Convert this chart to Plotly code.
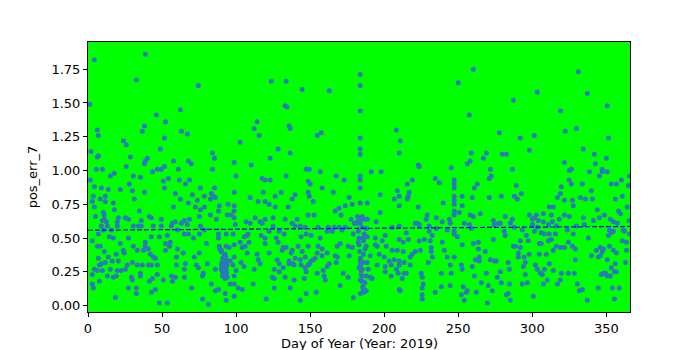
import plotly.graph_objects as go

# ---- data (day of year, pos_err_7) ----
days_q1 = [4.3,38.7,32.7,74.5,1.1,46.2,62.4,52.3,38.1,36.7,6.3,7.0,63.1,67.1,51.6,23.9,25.9,48.9,2.0,84.0,
           7.0,6.3,28.6,85.4,40.1,38.7,38.1,57.7,67.8,69.8,25.9,5.6,9.7,84.0,46.8,49.5,51.6,61.0,43.5,15.1,
           17.8,30.6,35.4,54.3,1.6,50.9,61.7,68.5,65.8,4.3,27.9,9.0,13.7,21.8,30.0,51.6,75.9,85.4,38.1,59.0,
           70.5,78.6,83.3,84.7,86.0,3.6,11.7,8.3,11.7,2.9,17.1,31.3,62.4,73.9,82.7,67.8,4.3,72.5,78.6,88.7,
           57.7,17.8,34.7,75.9,10.4,11.0,82.7,88.1,5.0,41.4,42.8,20.5,25.2,27.3,49.5,75.2,9.7,11.0,12.4,19.8,
           36.0,59.0,65.1,68.5,86.7,57.0,63.1,67.1,9.0,13.1,19.8,30.6,34.0,36.0,44.1,49.5,56.3,75.9,10.4,15.8,
           60.4,78.6,7.0,65.1,67.8,75.2,88.1,88.1,14.4,17.1,27.3,42.8,48.2,53.6,71.2,2.9,38.7,52.3,55.6,80.0,
           88.7,21.8,6.3,8.3,30.6,38.7,55.0,40.8,90.1,11.0,23.9,33.3,37.4,52.3,60.4,64.4,75.2,24.5,19.1,42.1,
           13.7,7.0,44.1,45.5,59.7,71.8,16.4,20.5,11.7,9.0,26.6,30.0,33.3,36.7,40.8,42.8,46.8,59.7,65.8,73.2,
           80.6,90.1,74.5,7.7,4.3,6.3,9.7,15.1,19.8,22.5,25.2,65.1,86.0,90.1,90.8,2.9,13.1,17.1,19.1,35.4,
           35.4,46.8,56.3,59.0,65.1,77.3,77.9,29.3,30.0,90.8,7.7,41.4,43.5,50.9,57.0,83.3,2.9,3.6,27.3,32.7,
           70.0,42.8,45.5,86.0,88.1,32.7,18.5,77.3,81.3,48.2,53.6]
vals_q1 = [1.82,1.86,1.67,1.63,1.49,1.41,1.45,1.36,1.33,1.29,1.30,1.26,1.29,1.27,1.24,1.22,1.19,1.16,1.14,1.13,
           1.11,1.10,1.10,1.09,1.09,1.07,1.05,1.07,1.07,1.05,1.03,1.01,1.01,1.01,1.01,1.01,1.03,1.01,0.99,0.96,
           0.98,0.96,0.95,0.94,0.93,0.92,0.93,0.93,0.90,0.88,0.90,0.87,0.86,0.86,0.85,0.87,0.87,0.87,0.84,0.83,
           0.82,0.81,0.83,0.81,0.80,0.81,0.81,0.79,0.77,0.77,0.76,0.79,0.79,0.78,0.79,0.76,0.73,0.73,0.73,0.74,
           0.73,0.71,0.70,0.71,0.69,0.67,0.67,0.70,0.66,0.66,0.65,0.65,0.65,0.64,0.64,0.66,0.63,0.64,0.62,0.62,
           0.63,0.62,0.63,0.64,0.64,0.61,0.61,0.60,0.59,0.59,0.59,0.59,0.59,0.59,0.59,0.59,0.59,0.59,0.56,0.56,
           0.56,0.56,0.53,0.53,0.53,0.53,0.53,0.50,0.51,0.50,0.50,0.51,0.51,0.52,0.50,0.48,0.47,0.46,0.47,0.46,
           0.44,0.46,0.44,0.44,0.44,0.44,0.44,0.42,0.41,0.40,0.41,0.41,0.41,0.41,0.42,0.39,0.39,0.39,0.38,0.38,
           0.36,0.35,0.36,0.35,0.36,0.36,0.33,0.33,0.32,0.31,0.30,0.32,0.30,0.30,0.30,0.30,0.30,0.30,0.31,0.30,
           0.31,0.30,0.28,0.30,0.27,0.26,0.26,0.27,0.26,0.26,0.27,0.27,0.27,0.27,0.25,0.23,0.22,0.21,0.22,0.24,
           0.22,0.23,0.22,0.21,0.21,0.22,0.24,0.21,0.19,0.22,0.18,0.18,0.20,0.19,0.18,0.16,0.16,0.13,0.13,0.13,
           0.13,0.10,0.12,0.11,0.12,0.09,0.06,0.05,0.01,0.02,0.02]

days_q2 = [90.5,91.0,91.5,92.0,92.0,92.5,93.0,93.0,93.5,93.5,94.0,91.0,92.0,90.0,89.0,92.5,94.0,90.5,91.5,93.0,
           123.7,133.8,144.6,162.9,133.1,134.5,114.2,112.2,135.8,136.5,115.6,154.8,157.5,102.7,128.4,136.5,123.0,98.7,110.2,100.0,
           147.3,149.4,133.8,117.6,119.6,123.0,148.7,150.0,156.8,167.6,173.0,158.1,98.7,118.3,130.4,126.4,148.7,149.4,139.9,137.9,
           165.6,176.4,109.5,114.9,119.6,152.1,94.6,122.3,126.4,135.2,98.7,98.7,173.7,178.4,169.6,166.9,170.9,94.0,96.7,98.7,
           112.9,125.0,148.7,152.7,141.2,133.1,116.2,119.6,117.6,106.8,109.5,99.4,137.9,139.9,143.3,146.7,155.4,162.2,166.2,169.6,
           173.7,177.7,179.8,181.8,125.0,129.1,132.5,143.9,147.3,150.7,156.8,161.5,164.9,171.6,179.1,93.3,98.0,107.5,108.1,105.4,
           116.9,119.6,122.3,127.1,128.4,108.8,102.7,98.7,93.3,119.6,148.7,155.4,158.1,170.3,168.3,175.7,178.4,182.5,131.8,133.8,
           137.9,141.9,144.6,95.3,104.1,106.1,107.5,114.2,122.3,131.1,137.2,161.5,166.9,168.3,176.4,139.9,143.3,146.7,152.1,158.1,
           154.8,92.6,98.7,114.9,127.7,93.3,96.0,103.4,116.2,129.1,135.8,138.5,149.4,150.7,153.4,162.9,167.6,92.6,98.0,105.4,
           131.8,135.8,139.2,143.9,146.7,148.7,161.5,93.3,100.0,112.2,125.7,129.1,147.3,154.8,158.8,159.5,172.3,175.7,93.3,98.7,
           125.7,124.4,133.1,139.2,146.0,160.2,170.3,96.0,98.7,101.4,104.1,111.5,125.7,136.5,147.3,154.1,92.6,98.7,93.3,120.3,
           143.3,179.1]
vals_q2 = [0.27,0.25,0.29,0.23,0.31,0.26,0.28,0.22,0.33,0.24,0.30,0.35,0.38,0.40,0.42,0.20,0.21,0.32,0.22,0.36,
           1.66,1.66,1.60,1.59,1.48,1.47,1.36,1.31,1.33,1.31,1.26,1.26,1.28,1.21,1.16,1.13,1.09,1.06,1.04,0.96,
           1.01,1.01,0.96,0.94,0.93,0.93,0.92,0.90,0.99,0.96,0.93,0.87,0.84,0.84,0.84,0.81,0.84,0.81,0.82,0.79,
           0.84,0.80,0.80,0.77,0.77,0.77,0.75,0.75,0.73,0.73,0.74,0.70,0.74,0.75,0.72,0.70,0.67,0.67,0.67,0.65,
           0.65,0.65,0.67,0.67,0.64,0.64,0.62,0.64,0.61,0.62,0.61,0.60,0.61,0.59,0.59,0.58,0.58,0.58,0.58,0.58,
           0.58,0.64,0.61,0.61,0.59,0.55,0.53,0.51,0.53,0.52,0.50,0.55,0.55,0.56,0.53,0.53,0.53,0.52,0.53,0.51,
           0.52,0.50,0.55,0.50,0.47,0.47,0.47,0.45,0.44,0.46,0.44,0.44,0.42,0.46,0.44,0.44,0.43,0.47,0.43,0.43,
           0.41,0.44,0.40,0.43,0.43,0.44,0.39,0.38,0.39,0.41,0.39,0.39,0.37,0.36,0.37,0.35,0.34,0.36,0.34,0.37,
           0.39,0.38,0.36,0.34,0.34,0.33,0.33,0.32,0.31,0.31,0.33,0.31,0.31,0.33,0.35,0.31,0.32,0.30,0.30,0.29,
           0.28,0.31,0.30,0.30,0.28,0.30,0.29,0.26,0.26,0.27,0.27,0.25,0.25,0.24,0.26,0.22,0.24,0.21,0.23,0.22,
           0.20,0.21,0.21,0.19,0.20,0.19,0.15,0.16,0.16,0.13,0.12,0.16,0.13,0.13,0.09,0.10,0.09,0.07,0.04,0.05,
           0.04,0.06]

days_q3 = [182.0,182.5,183.0,183.0,183.5,184.0,184.0,184.5,185.0,185.0,185.5,186.0,184.0,185.0,186.0,187.0,186.0,183.0,184.0,187.0,
           188.0,182.0,
           260.2,250.0,183.8,183.8,183.8,257.5,208.2,210.9,210.2,183.8,183.8,183.8,258.8,269.0,267.0,256.1,258.1,223.0,
           223.7,245.3,271.7,191.3,198.0,183.8,183.8,183.8,219.0,215.6,234.5,237.2,247.3,247.3,247.3,262.9,260.9,271.0,272.3,208.8,
           210.2,206.8,216.9,216.3,215.6,197.3,247.3,247.3,247.3,252.7,259.5,271.0,183.8,188.6,210.2,223.0,239.9,247.3,247.3,247.3,
           250.7,252.7,258.1,260.2,264.9,273.7,197.3,185.2,186.5,188.6,183.8,194.6,229.1,228.4,235.2,239.2,244.0,244.6,221.0,222.3,
           223.7,254.1,257.5,274.4,187.9,205.4,210.2,230.4,235.2,242.6,247.3,247.3,249.4,258.8,186.5,200.7,214.9,230.4,232.5,185.9,
           188.6,194.0,198.7,210.2,212.9,216.3,223.7,227.1,231.1,239.2,252.7,260.2,263.6,273.7,187.9,194.0,195.3,201.4,208.8,212.9,
           205.4,219.0,221.0,224.4,231.8,231.8,240.6,263.6,268.3,190.6,196.7,200.0,203.4,206.8,210.2,217.6,232.5,242.6,247.3,261.5,
           264.2,264.2,271.7,183.8,185.9,188.6,195.3,200.7,204.8,210.2,213.5,217.6,229.8,244.6,252.1,259.5,274.4,185.2,189.2,200.7,
           208.2,209.5,213.5,225.0,238.6,245.3,252.7,269.0,184.5,190.6,204.8,214.9,225.7,183.8,185.2,191.9,212.2,260.9,265.6,226.4,
           185.9,187.9,186.5,210.2,210.9,225.7,238.6,244.6,253.4,256.1,270.3,273.0,234.5,262.2,225.7,225.7,252.1,254.1,255.4,269.7]
vals_q3 = [0.62,0.55,0.50,0.45,0.40,0.35,0.30,0.26,0.22,0.18,0.14,0.12,0.64,0.58,0.48,0.42,0.38,0.28,0.09,0.17,
           0.22,0.66,
           1.75,1.65,1.71,1.63,1.44,1.41,1.30,1.22,1.13,1.24,1.16,1.12,1.13,1.13,1.09,1.05,1.07,1.04,
           1.03,1.02,1.01,0.99,0.99,0.96,0.93,0.87,0.93,0.90,0.94,0.91,0.93,0.90,0.87,0.90,0.87,0.94,0.96,0.85,
           0.81,0.79,0.84,0.81,0.79,0.82,0.81,0.78,0.75,0.81,0.80,0.80,0.76,0.76,0.74,0.73,0.76,0.70,0.67,0.69,
           0.69,0.74,0.67,0.66,0.68,0.63,0.69,0.66,0.64,0.64,0.61,0.62,0.67,0.64,0.65,0.62,0.64,0.61,0.61,0.61,
           0.60,0.61,0.60,0.60,0.57,0.58,0.59,0.59,0.57,0.56,0.55,0.53,0.51,0.57,0.53,0.52,0.54,0.55,0.52,0.50,
           0.51,0.50,0.48,0.49,0.47,0.49,0.48,0.49,0.48,0.47,0.45,0.46,0.47,0.49,0.44,0.45,0.44,0.44,0.41,0.40,
           0.41,0.38,0.40,0.41,0.43,0.40,0.41,0.42,0.40,0.37,0.38,0.36,0.33,0.34,0.33,0.36,0.36,0.36,0.36,0.34,
           0.36,0.33,0.34,0.33,0.32,0.32,0.30,0.29,0.30,0.30,0.32,0.30,0.32,0.30,0.30,0.29,0.33,0.27,0.27,0.25,
           0.27,0.24,0.24,0.24,0.24,0.24,0.27,0.24,0.23,0.21,0.22,0.24,0.21,0.19,0.18,0.20,0.20,0.22,0.17,0.16,
           0.13,0.11,0.10,0.12,0.11,0.13,0.14,0.15,0.14,0.11,0.15,0.11,0.10,0.10,0.08,0.05,0.08,0.04,0.10,0.02]

days_q4 = [331.1,303.4,287.2,337.2,350.7,319.0,277.8,291.9,301.4,322.3,329.8,351.4,334.5,298.0,279.8,282.5,341.9,350.1,342.6,286.5,
           321.7,325.0,326.4,338.6,347.3,347.3,350.7,345.3,365.6,325.0,326.4,333.8,360.2,356.8,353.4,364.9,319.6,289.2,339.9,319.0,
           292.6,287.9,279.1,289.9,317.0,321.7,327.1,327.7,332.5,335.9,340.6,356.1,360.9,311.5,314.2,364.2,343.9,358.2,359.5,281.8,
           286.5,298.0,301.4,302.8,300.1,307.5,312.9,321.7,325.0,334.5,345.3,348.7,352.7,354.8,357.5,365.4,277.1,278.4,285.2,304.1,
           307.5,313.6,318.3,341.3,300.1,310.9,329.8,335.2,287.9,293.3,303.4,316.3,323.7,352.1,353.4,354.8,361.5,281.1,281.8,296.0,
           301.4,306.1,308.2,311.5,315.6,327.7,337.9,351.4,362.2,365.8,310.9,312.9,291.9,297.3,306.1,304.8,324.4,360.9,363.6,287.2,
           288.6,291.9,316.3,319.0,321.7,327.1,329.1,346.0,348.0,347.3,352.1,354.8,356.8,363.6,314.2,290.6,290.6,298.0,294.6,304.8,
           309.5,339.9,343.3,344.6,346.0,350.7,329.1,275.7,283.8,295.3,311.5,356.1,362.9,302.1,294.0,303.4,308.2,314.2,353.4,278.4,
           284.5,305.5,319.6,324.4,328.4,355.5,356.8,348.0,349.4,350.7,352.7,346.7,295.3,276.4,279.1,306.8,310.2,307.5,319.0,317.0,
           296.7,293.3,284.5,330.5,331.8,333.8,344.6,354.1,358.8,283.8,282.5,285.2,300.7,337.2,355.5]
vals_q4 = [1.73,1.58,1.52,1.57,1.48,1.44,1.28,1.24,1.26,1.29,1.31,1.24,1.16,1.15,1.12,1.12,1.12,1.09,1.05,1.01,
           1.06,1.00,1.01,0.99,1.01,0.99,0.99,0.96,0.96,0.93,0.90,0.90,0.93,0.90,0.90,0.89,0.88,0.89,0.85,0.83,
           0.83,0.81,0.81,0.79,0.80,0.78,0.78,0.74,0.80,0.79,0.79,0.79,0.81,0.73,0.73,0.73,0.71,0.70,0.68,0.66,
           0.64,0.67,0.65,0.67,0.64,0.68,0.67,0.67,0.66,0.65,0.65,0.67,0.64,0.62,0.61,0.63,0.61,0.61,0.61,0.63,
           0.62,0.62,0.64,0.63,0.60,0.60,0.59,0.60,0.58,0.56,0.58,0.59,0.56,0.56,0.54,0.55,0.56,0.55,0.52,0.52,
           0.55,0.54,0.53,0.53,0.53,0.53,0.50,0.52,0.55,0.53,0.48,0.49,0.48,0.48,0.46,0.46,0.47,0.48,0.47,0.44,
           0.44,0.43,0.44,0.43,0.43,0.44,0.42,0.43,0.42,0.40,0.44,0.41,0.39,0.41,0.41,0.39,0.36,0.38,0.36,0.38,
           0.38,0.37,0.41,0.36,0.37,0.34,0.34,0.33,0.32,0.32,0.31,0.31,0.32,0.30,0.29,0.27,0.27,0.26,0.28,0.25,
           0.27,0.24,0.24,0.24,0.24,0.25,0.25,0.24,0.24,0.22,0.22,0.23,0.23,0.21,0.17,0.23,0.19,0.16,0.19,0.16,
           0.17,0.16,0.16,0.16,0.11,0.12,0.13,0.13,0.13,0.09,0.08,0.04,0.07,0.04,0.05]

trend_days = [0, 366]
trend_vals = [0.558, 0.586]

x_ticks = [0, 50, 100, 150, 200, 250, 300, 350]
y_ticks = [0.00, 0.25, 0.50, 0.75, 1.00, 1.25, 1.50, 1.75]

days = days_q1 + days_q2 + days_q3 + days_q4
vals = vals_q1 + vals_q2 + vals_q3 + vals_q4

fig = go.Figure()
fig.add_trace(go.Scatter(x=days, y=vals, mode="markers",
                         marker=dict(size=5, color="#2a7ab9", line=dict(width=0)),
                         showlegend=False, hoverinfo="skip"))
fig.add_trace(go.Scatter(x=trend_days, y=trend_vals, mode="lines",
                         line=dict(color="#0000ff", width=1.2, dash="5px,2px"),
                         showlegend=False, hoverinfo="skip"))

font = dict(family="DejaVu Sans", size=13, color="#000000")
fig.update_layout(
    width=700, height=350,
    margin=dict(l=88, r=70, t=42, b=38, pad=0),
    paper_bgcolor="#ffffff", plot_bgcolor="#00ff00",
    font=font,
    xaxis=dict(range=[0, 366], tickvals=x_ticks, ticks="outside", ticklen=4, tickwidth=1,
               tickcolor="#000", showgrid=False, zeroline=False, showline=True, linecolor="#000",
               linewidth=1, mirror=True, automargin=False, tickfont=font),
    yaxis=dict(range=[-0.047, 1.951], tickvals=y_ticks, tickformat=".2f", ticks="outside",
               ticklen=4, tickwidth=1, tickcolor="#000", showgrid=False, zeroline=False,
               showline=True, linecolor="#000", linewidth=1, mirror=True, automargin=False,
               tickfont=font, title=dict(text="pos_err_7", font=font, standoff=10)),
    annotations=[dict(text="Day of Year (Year: 2019)", xref="paper", yref="paper",
                      x=0.5, y=0, xanchor="center", yanchor="middle", yshift=-31,
                      showarrow=False, font=font)],
)
fig.write_html("out.html")
